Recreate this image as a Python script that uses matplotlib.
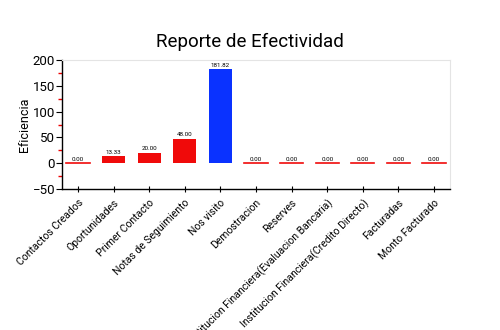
import matplotlib.pyplot as plt
import numpy as np
from matplotlib.ticker import MultipleLocator

categorias = ['Contactos Creados', 'Oportunidades', 'Primer Contacto',
              'Notas de Seguimiento', 'Nos visito', 'Demostracion', 'Reserves',
              'Institucion Financiera(Evaluacion Bancaria)',
              'Institucion Financiera(Credito Directo)', 'Facturadas',
              'Monto Facturado']
eficiencia = [0.00, 13.33, 20.00, 48.00, 181.82, 0.00, 0.00, 0.00, 0.00, 0.00, 0.00]
colores = ['#f00a0a', '#f00a0a', '#f00a0a', '#f00a0a', '#0a32ff',
           '#f00a0a', '#f00a0a', '#f00a0a', '#f00a0a', '#f00a0a', '#f00a0a']

plt.rcParams['font.family'] = ['Roboto', 'DejaVu Sans']

fig = plt.figure(figsize=(5, 3.3), dpi=100)
ax = fig.add_axes([0.124, 0.427, 0.776, 0.391])

index = np.arange(len(categorias))
ax.bar(index, eficiencia, width=0.65, color=colores, zorder=2)
# barras en cero se marcan con una linea
for i, v in enumerate(eficiencia):
    if v == 0:
        ax.plot([i - 0.325, i + 0.325], [0, 0], color=colores[i], lw=1.2, zorder=3)
    ax.text(i, v + 3, '%.2f' % v, ha='center', va='bottom', fontsize=4.5)

ax.set_xlim(-0.45, len(categorias) - 0.55)
ax.set_ylim(-50, 200)
ax.yaxis.set_major_locator(MultipleLocator(50))
ax.yaxis.set_minor_locator(MultipleLocator(25))
ax.tick_params(axis='y', which='major', length=4, width=0.8, labelsize=9.5, pad=1)
ax.tick_params(axis='y', which='minor', length=3, width=1.0, color='#ee0000')
ax.tick_params(axis='x', which='major', length=5, direction='inout', width=0.8)

ax.set_xticks(index)
ax.set_xticklabels(categorias, rotation=45, ha='right', rotation_mode='anchor', fontsize=7.5)

ax.spines['top'].set_color('#e4e4e4')
ax.spines['right'].set_color('#e4e4e4')
ax.spines['left'].set_linewidth(1)
ax.spines['bottom'].set_linewidth(1)

ax.set_ylabel('Eficiencia', fontsize=9, labelpad=1)
fig.suptitle('Reporte de Efectividad', fontsize=13.5, y=0.9)

fig.savefig('out.png', dpi=100)
